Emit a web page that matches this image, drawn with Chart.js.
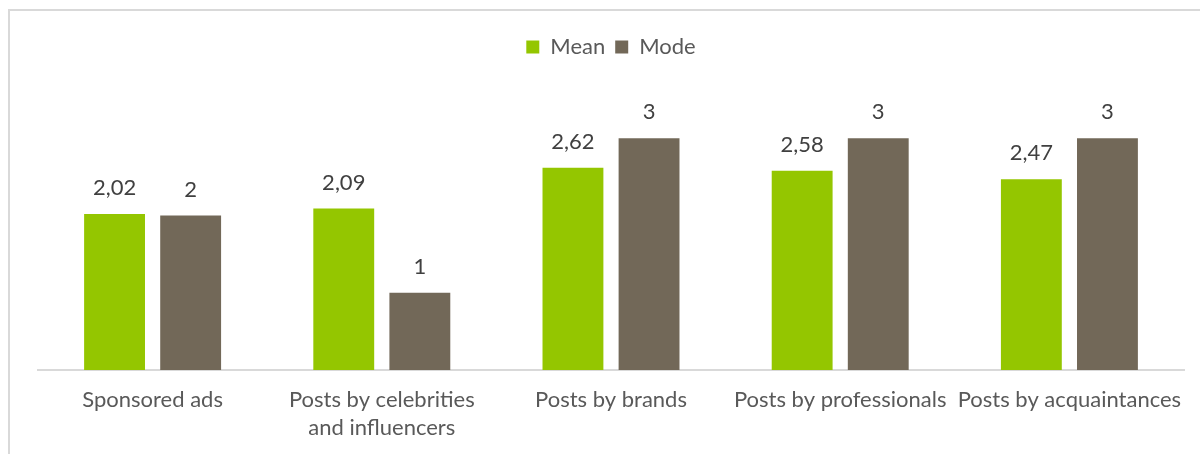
<!DOCTYPE html>
<html>
<head>
<meta charset="utf-8">
<script src="https://cdn.jsdelivr.net/npm/chart.js@4/dist/chart.umd.min.js"></script>
<style>
  html, body { margin: 0; padding: 0; background: #fff; }
  #frame { position: absolute; left: 8px; top: 9px; width: 1210px; height: 470px; border: 2px solid #d9d9d9; box-sizing: border-box; }
  #wrap { position: absolute; left: 0; top: 0; width: 1200px; height: 454px; }
</style>
</head>
<body>
<div id="frame"></div>
<div id="wrap"><canvas id="c" width="1200" height="454"></canvas></div>
<script>
const categories = ['Sponsored ads', ['Posts by celebrities', 'and influencers'], 'Posts by brands', 'Posts by professionals', 'Posts by acquaintances'];
const seriesNames = ['Mean', 'Mode'];
const meanValues = [2.02, 2.09, 2.62, 2.58, 2.47];
const modeValues = [2, 1, 3, 3, 3];

const FONT = 'Lato, "Open Sans", sans-serif';

const valueLabels = {
  id: 'valueLabels',
  afterDatasetsDraw(chart) {
    const ctx = chart.ctx;
    ctx.save();
    ctx.font = '22px ' + FONT;
    ctx.fillStyle = '#404040';
    ctx.textAlign = 'center';
    ctx.textBaseline = 'alphabetic';
    chart.data.datasets.forEach((ds, di) => {
      const meta = chart.getDatasetMeta(di);
      meta.data.forEach((bar, i) => {
        const txt = String(ds.data[i]).replace('.', ',');
        ctx.fillText(txt, bar.x, bar.y - 19);
      });
    });
    ctx.restore();
  }
};

new Chart(document.getElementById('c'), {
  type: 'bar',
  data: {
    labels: categories,
    datasets: [
      { label: seriesNames[0], data: meanValues, backgroundColor: '#94c600', borderWidth: 0,
        categoryPercentage: 0.664, barPercentage: 0.80 },
      { label: seriesNames[1], data: modeValues, backgroundColor: '#726858', borderWidth: 0,
        categoryPercentage: 0.664, barPercentage: 0.80 }
    ]
  },
  options: {
    responsive: false,
    animation: false,
    layout: { padding: { left: 38, right: 16, top: 26, bottom: 0 } },
    plugins: {
      legend: {
        position: 'top',
        labels: { boxWidth: 13, boxHeight: 13, padding: 10, color: '#595959', font: { family: FONT, size: 22 } }
      },
      tooltip: { enabled: false }
    },
    scales: {
      x: {
        grid: { display: false, drawTicks: false },
        border: { display: true, color: '#d9d9d9', width: 2 },
        ticks: { color: '#595959', padding: 16, maxRotation: 0, autoSkip: false,
                 font: { family: FONT, size: 22, lineHeight: 1.27 } },
        afterFit(scale) { scale.height = 84; }
      },
      y: { display: false, min: 0, max: 3.91 }
    }
  },
  plugins: [valueLabels]
});
</script>
</body>
</html>
